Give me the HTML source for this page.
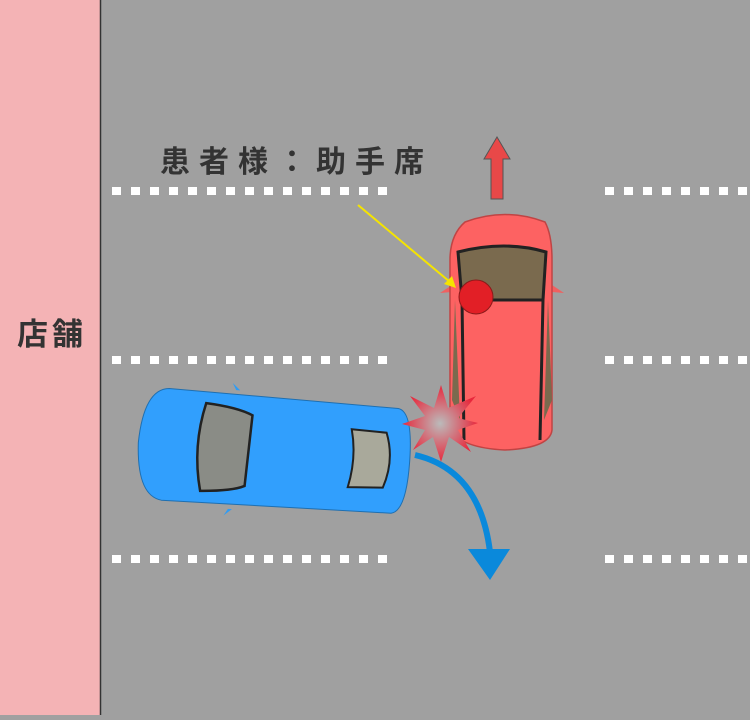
<!DOCTYPE html>
<html><head><meta charset="utf-8"><style>
body{margin:0;width:750px;height:715px;overflow:hidden;background:#a0a0a0;font-family:"Liberation Sans","Noto Sans CJK JP",sans-serif}
</style></head><body>
<svg width="750" height="715" viewBox="0 0 750 715" xmlns="http://www.w3.org/2000/svg">
<defs>
<pattern id="d" x="112" y="0" width="19" height="715" patternUnits="userSpaceOnUse"><rect x="0" y="0" width="9" height="715" fill="#fff"/></pattern>
<radialGradient id="g"><stop offset="0" stop-color="#bbb"/><stop offset="1" stop-color="#e8283c"/></radialGradient>
</defs>
<rect width="750" height="715" fill="#a0a0a0"/>
<rect x="0" y="0" width="100" height="715" fill="#f4b3b5"/>
<line x1="100.5" y1="0" x2="100.5" y2="715" stroke="#333" stroke-width="1.5"/>
<text x="52" y="345" font-size="31" font-weight="bold" fill="#333" text-anchor="middle" font-family="'Noto Sans CJK JP',sans-serif" letter-spacing="4">店舗</text>
<g fill="url(#d)">
<rect x="112" y="187" width="276" height="8"/><rect x="112" y="356" width="276" height="8"/><rect x="112" y="555" width="276" height="8"/>
</g>
<g fill="#fff">
<rect x="605" y="187" width="9" height="8"/><rect x="624" y="187" width="9" height="8"/><rect x="643" y="187" width="9" height="8"/><rect x="662" y="187" width="9" height="8"/><rect x="681" y="187" width="9" height="8"/><rect x="700" y="187" width="9" height="8"/><rect x="719" y="187" width="9" height="8"/><rect x="738" y="187" width="9" height="8"/>
<rect x="605" y="356" width="9" height="8"/><rect x="624" y="356" width="9" height="8"/><rect x="643" y="356" width="9" height="8"/><rect x="662" y="356" width="9" height="8"/><rect x="681" y="356" width="9" height="8"/><rect x="700" y="356" width="9" height="8"/><rect x="719" y="356" width="9" height="8"/><rect x="738" y="356" width="9" height="8"/>
<rect x="605" y="555" width="9" height="8"/><rect x="624" y="555" width="9" height="8"/><rect x="643" y="555" width="9" height="8"/><rect x="662" y="555" width="9" height="8"/><rect x="681" y="555" width="9" height="8"/><rect x="700" y="555" width="9" height="8"/><rect x="719" y="555" width="9" height="8"/><rect x="738" y="555" width="9" height="8"/>
</g>
<text x="160" y="172" font-size="30" font-weight="bold" fill="#333" letter-spacing="9" font-family="'Noto Sans CJK JP',sans-serif">患者様：助手席</text>
<polygon points="497,137 510,159 503,159 503,199 491,199 491,159 484,159" fill="#e84848" stroke="#555" stroke-width="1"/>
<!-- red car -->
<g>
<path d="M440,293 L452,285 L452,292 Z M564,293 L552,285 L552,292 Z" fill="#f06060"/>
<path d="M465,222 Q505,207 545,222 Q552,235 552,260 L552,430 Q550,448 505,450 Q462,448 450,430 L450,260 Q450,235 465,222 Z" fill="#fd6262" stroke="#c04444" stroke-width="1.5"/>
<path d="M458,252 Q505,240 546,252 L543,300 L462,300 Z" fill="#7a6a4e" stroke="#222" stroke-width="3"/>
<path d="M462,300 L464,440 M543,300 L540,440" stroke="#222" stroke-width="3" fill="none"/>
<path d="M455,300 L460,420 L452,400 Z M548,300 L544,420 L552,400 Z" fill="#7a6a4e"/>
<circle cx="476" cy="297" r="17" fill="#e21f26" stroke="#8a1a1a" stroke-width="1"/>
</g>
<line x1="358" y1="205" x2="450" y2="282" stroke="#f5e400" stroke-width="2"/>
<polygon points="456,288 444,284 452,276" fill="#f5e400"/>
<!-- blue car -->
<g transform="rotate(4 275 452)">
<path d="M232,393 L228,386 L236,393 Z M232,512 L228,519 L236,512 Z" fill="#2f9cf5"/>
<path d="M165,396 L395,400 Q410,402 410,452 Q410,502 395,505 L165,508 Q140,505 138,452 Q140,398 165,396 Z" fill="#319ffd" stroke="#1f6fb0" stroke-width="1"/>
<path d="M203,408 Q235,410 250,417 L247,488 Q235,494 203,496 Q192,452 203,408 Z" fill="#8a8c86" stroke="#222" stroke-width="2.5"/>
<path d="M350,424 L385,425 Q395,452 385,480 L350,482 Q357,452 350,424 Z" fill="#a9a99b" stroke="#222" stroke-width="2"/>
</g>
<path d="M415,455 Q480,470 490,552" fill="none" stroke="#0a89db" stroke-width="6"/>
<polygon points="468,549 510,549 490,580" fill="#0a89db"/>
<!-- star -->
<polygon points="441,385 448,408 476,396 458,418 478,423 458,430 471,452 449,437 441,462 433,437 413,450 425,430 402,424 425,416 410,396 434,408" fill="url(#g)"/>
</svg>
</body></html>
